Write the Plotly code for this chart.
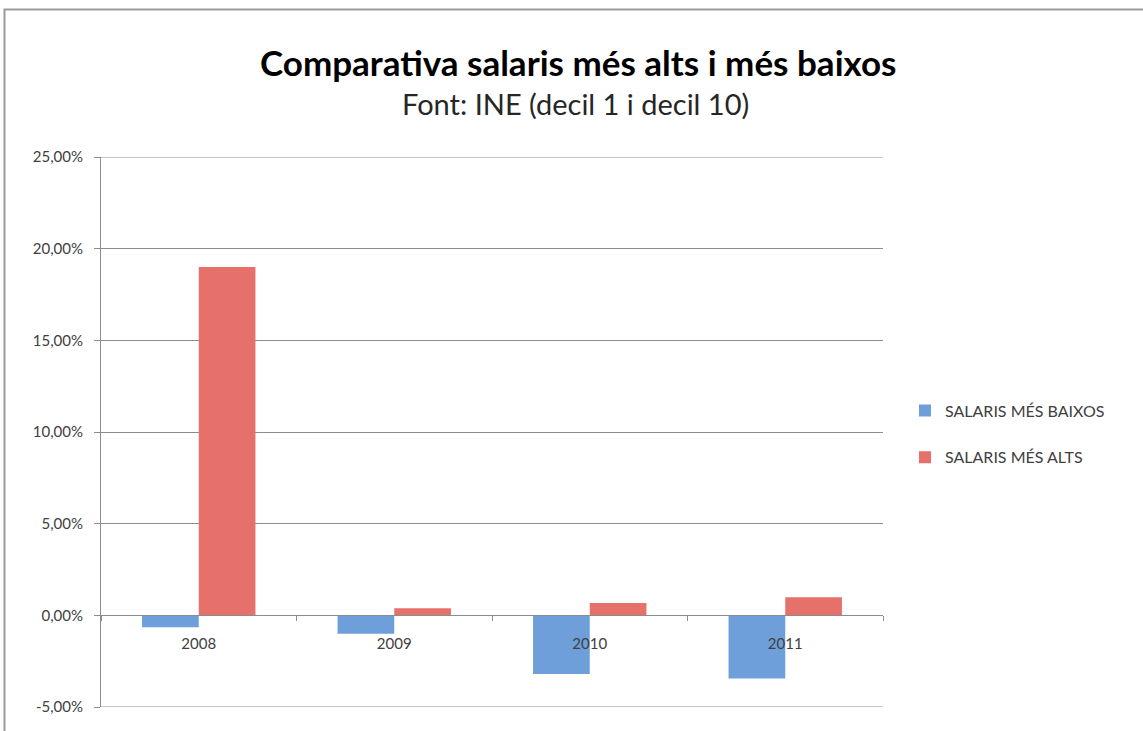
import plotly.graph_objects as go

years = ["2008", "2009", "2010", "2011"]
salaris_baixos = [-0.0065, -0.010, -0.032, -0.0345]
salaris_alts = [0.190, 0.0038, 0.0067, 0.0098]
y_tickvals = [-0.05, 0.0, 0.05, 0.10, 0.15, 0.20, 0.25]
y_ticktext = ["-5,00%", "0,00%", "5,00%", "10,00%", "15,00%", "20,00%", "25,00%"]

FONT = "Lato"
L, R, T, B = 101, 260, 157, 24
W, H = 1143, 731
pw, ph = W - L - R, H - T - B

def px_x(px):
    return (px - L) / pw

def px_y(py):
    return (H - B - py) / ph

fig = go.Figure()
fig.add_trace(go.Bar(x=years, y=salaris_baixos, name="SALARIS MÉS BAIXOS",
                     marker=dict(color="#6E9FDB", line=dict(width=0)),
                     legendgroup="a"))
fig.add_trace(go.Bar(x=years, y=salaris_alts, name="SALARIS MÉS ALTS",
                     marker=dict(color="#E6716A", line=dict(width=0)),
                     legendgroup="b"))

ymin, ymax = y_tickvals[0], y_tickvals[-1]
zero_pos = (0 - ymin) / (ymax - ymin)

grid_edge_shapes = [
    dict(type="line", xref="paper", yref="y", x0=0, x1=1, y0=v, y1=v,
         line=dict(color="#8c8c8c", width=1), layer="below")
    for v in (ymin, ymax)
]

fig.update_layout(
    width=W, height=H,
    margin=dict(l=L, r=R, t=T, b=B, autoexpand=False),
    paper_bgcolor="white", plot_bgcolor="white",
    separators=",.",
    barmode="group", bargap=0.42, bargroupgap=0,
    font=dict(family=FONT, color="#404040", size=14),
    showlegend=True,
    legend=dict(x=px_x(905), y=px_y(434), xanchor="left", yanchor="middle",
                font=dict(size=16, color="#404040"), tracegroupgap=23,
                traceorder="grouped", itemwidth=30),
    xaxis=dict(anchor="free", position=zero_pos, showline=True, linecolor="#8c8c8c",
               linewidth=1, ticks="outside", tickson="boundaries", ticklen=5,
               tickcolor="#8c8c8c", showgrid=False, automargin=False,
               ticklabelstandoff=15,
               tickfont=dict(size=15, color="#404040")),
    yaxis=dict(range=[ymin, ymax], tickvals=y_tickvals, ticktext=y_ticktext,
               showline=True, automargin=False,
               linecolor="#8c8c8c", linewidth=1, ticks="outside", ticklen=6,
               tickcolor="#8c8c8c", showgrid=True, gridcolor="#8c8c8c", gridwidth=1,
               zeroline=False, ticklabelstandoff=8,
               tickfont=dict(size=15, color="#404040")),
    annotations=[
        dict(text="<b>Comparativa salaris més alts i més baixos</b>", xref="paper", yref="paper",
             x=px_x(578), y=px_y(62), xanchor="center", yanchor="middle", showarrow=False,
             font=dict(family=FONT, size=35, color="black")),
        dict(text="Font: INE (decil 1 i decil 10)", xref="paper", yref="paper",
             x=px_x(575), y=px_y(103), xanchor="center", yanchor="middle", showarrow=False,
             font=dict(family=FONT, size=29, color="#262626")),
    ],
    shapes=[
        dict(type="rect", xref="paper", yref="paper",
             x0=px_x(4.5), x1=px_x(1160), y0=px_y(760), y1=px_y(9.5),
             line=dict(color="#9a9a9a", width=2), fillcolor="rgba(0,0,0,0)", layer="below"),
    ] + grid_edge_shapes,
)

fig.write_html("out.html", config={"displayModeBar": False},
               post_script="document.body.style.margin='0';")
